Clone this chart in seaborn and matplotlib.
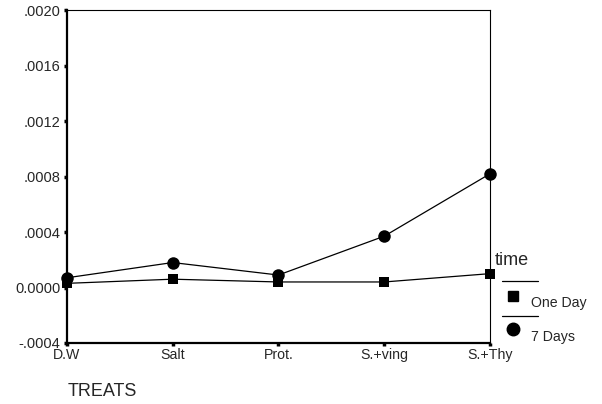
import matplotlib
matplotlib.use("Agg")
import matplotlib.pyplot as plt
import seaborn as sns
import pandas as pd
from matplotlib.lines import Line2D

treats = ["D.W", "Salt", "Prot.", "S.+ving", "S.+Thy"]
one_day = [0.00003, 0.00006, 0.00004, 0.00004, 0.00010]
seven_days = [0.00007, 0.00018, 0.00009, 0.00037, 0.00082]
y_ticks = [-0.0004, 0.0, 0.0004, 0.0008, 0.0012, 0.0016, 0.0020]
y_tick_labels = ["-.0004", "0.0000", ".0004", ".0008", ".0012", ".0016", ".0020"]

df = pd.DataFrame({
    "TREATS": treats * 2,
    "value": one_day + seven_days,
    "time": ["One Day"] * len(treats) + ["7 Days"] * len(treats),
})

sns.set_style("white")
plt.rcParams["font.family"] = ["Liberation Sans", "DejaVu Sans"]

fig = plt.figure(figsize=(6.02, 4.04), dpi=100)
ax = fig.add_axes([0.111, 0.151, 0.703, 0.824])

sns.lineplot(data=df, x="TREATS", y="value", hue="time", style="time",
             markers={"One Day": "s", "7 Days": "o"}, dashes=False,
             palette={"One Day": "black", "7 Days": "black"},
             markersize=8, linewidth=0.9, markeredgewidth=0,
             sort=False, legend=False, ax=ax)
for ln in ax.lines:
    ln.set_clip_on(False)
    ln.set_zorder(5)
    if ln.get_marker() == "s":
        ln.set_markersize(7)
    else:
        ln.set_markersize(9)

ax.set_xlim(0, len(treats) - 1)
ax.set_ylim(-0.0004, 0.0020)
ax.set_yticks(y_ticks)
ax.set_yticklabels(y_tick_labels)
ax.set_xlabel("")
ax.set_ylabel("")

for s in ["left", "bottom"]:
    ax.spines[s].set_linewidth(1.6)
    ax.spines[s].set_color("black")
for s in ["top", "right"]:
    ax.spines[s].set_linewidth(0.8)
    ax.spines[s].set_color("black")
ax.tick_params(axis="both", direction="out", length=2.5, width=2.5, color="black",
               left=True, bottom=True, pad=2)
ax.tick_params(axis="y", labelsize=10.5)
ax.tick_params(axis="x", labelsize=10.2, pad=1)

fig.text(0.113, 0.030, "TREATS", fontsize=13, ha="left", va="center")

# Legend drawn manually
fig.text(0.822, 0.354, "time", fontsize=13, ha="left", va="center")
fig.add_artist(Line2D([0.834, 0.893], [0.305, 0.305], color="black", lw=0.9))
fig.add_artist(Line2D([0.852], [0.268], marker="s", color="black", markersize=6.5, lw=0))
fig.text(0.882, 0.250, "One Day", fontsize=10.2, ha="left", va="center")
fig.add_artist(Line2D([0.834, 0.893], [0.218, 0.218], color="black", lw=0.9))
fig.add_artist(Line2D([0.852], [0.186], marker="o", color="black", markersize=9, lw=0))
fig.text(0.882, 0.166, "7 Days", fontsize=10.2, ha="left", va="center")

fig.savefig("out.png", dpi=100)
